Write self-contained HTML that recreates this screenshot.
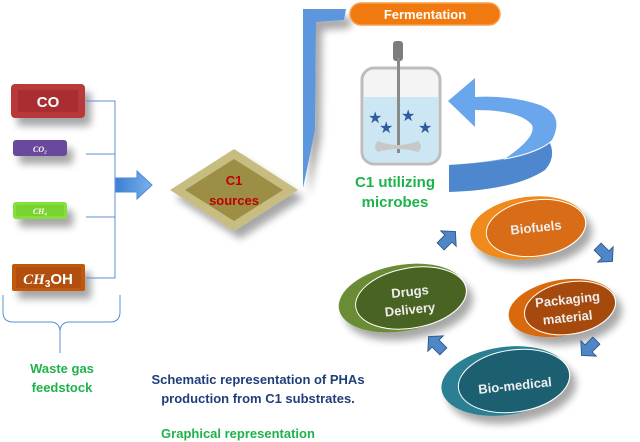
<!DOCTYPE html>
<html><head><meta charset="utf-8"><style>
html,body{margin:0;padding:0;background:#fff;}
svg{display:block;font-family:"Liberation Sans",sans-serif;font-weight:bold;}
</style></head><body>
<svg width="640" height="442" viewBox="0 0 640 442" xmlns="http://www.w3.org/2000/svg">
<defs>
<filter id="sh" x="-30%" y="-30%" width="180%" height="200%"><feGaussianBlur in="SourceAlpha" stdDeviation="4"/><feOffset dx="6" dy="8"/><feComponentTransfer><feFuncA type="linear" slope="0.35"/></feComponentTransfer><feMerge><feMergeNode/><feMergeNode in="SourceGraphic"/></feMerge></filter>
<linearGradient id="blu" x1="0" y1="0" x2="1" y2="0"><stop offset="0" stop-color="#3d7fd0"/><stop offset="1" stop-color="#7ab2ee"/></linearGradient>
</defs>
<g filter="url(#sh)">
<rect x="11" y="84" width="74" height="34" rx="4" fill="#b8383a"/>
<rect x="18" y="90" width="60" height="22" fill="#a82f31"/>
<rect x="13" y="140" width="54" height="16" rx="3" fill="#6a4a9c"/>
<rect x="13" y="202" width="54" height="17" rx="3" fill="#86e03a"/>
<rect x="16" y="205" width="48" height="11" fill="#7ad22e"/>
<rect x="12" y="264" width="73" height="27" rx="2" fill="#c0580f"/>
<rect x="16" y="267" width="65" height="21" fill="#b24f0c"/>
</g>
<text x="48" y="107" fill="#fff" font-size="15" text-anchor="middle">CO</text>
<text x="40" y="152" fill="#fff" font-size="8" font-style="italic" font-family="Liberation Serif,serif" text-anchor="middle">CO₂</text>
<text x="40" y="214" fill="#fff" font-size="8" font-style="italic" font-family="Liberation Serif,serif" text-anchor="middle">CH₄</text>
<text x="48" y="284" fill="#fff" font-size="15" text-anchor="middle"><tspan font-style="italic" font-family="Liberation Serif,serif">CH</tspan><tspan font-size="10" dy="3">3</tspan><tspan dy="-3">OH</tspan></text>
<g stroke="#5b8fd6" stroke-width="1" fill="none">
<path d="M86 101H115V278H86M86 154H115M86 217H115"/>
<path d="M3 295V312Q3 322 13 322H50Q60 322 60 332V353M60 332Q60 322 70 322H110Q120 322 120 312V295"/>
</g>
<path d="M116 178H137V171L152 185L137 199V192H116Z" fill="url(#blu)" stroke="#4a8ad8"/>
<g filter="url(#sh)">
<polygon points="170,190 234,149 298,190 234,231" fill="#c8bd80"/>
<polygon points="185,190 234,159 283,190 234,221" fill="#9c8f45"/>
</g>
<text x="234" y="185" fill="#c00000" font-size="13" text-anchor="middle">C1</text>
<text x="234" y="205" fill="#c00000" font-size="13" text-anchor="middle">sources</text>
<path d="M303 9H346L344 20L316 22L315 130L303 188Z" fill="#5b96dc" filter="url(#sh)"/>
<rect x="350" y="3" width="150" height="22" rx="11" fill="#f07a10" stroke="#f7a04a" stroke-width="1.5"/>
<text x="425" y="19" fill="#fff" font-size="13" text-anchor="middle">Fermentation</text>
<rect x="362" y="68" width="78" height="96" rx="12" fill="#f4f4f4" stroke="#bdbdbd" stroke-width="3"/>
<path d="M364 97H438V152Q438 162 428 162H374Q364 162 364 152Z" fill="#cce6f3"/>
<rect x="393" y="41" width="10" height="20" rx="3" fill="#7d7d7d"/>
<rect x="397" y="58" width="3" height="95" fill="#8a8a8a"/>
<path d="M378 141Q372 147 378 152Q388 149 398 149Q408 149 418 152Q424 147 418 141Q408 145 398 145Q388 145 378 141Z" fill="#c8c8c8"/>
<g fill="#2e5c9e" font-size="16" font-weight="normal" font-family="DejaVu Sans,sans-serif">
<text x="368" y="123">★</text><text x="379" y="133">★</text><text x="401" y="121">★</text><text x="418" y="133">★</text></g>
<path d="M449 165Q530 160 552 140Q565 115 540 105Q510 95 475 97L475 78L448 101L475 127L475 110Q520 110 532 125Q540 145 449 190Z" fill="#6aa6ec"/>
<path d="M449 165Q525 162 550 143Q556 158 545 170Q515 190 449 192Z" fill="#4f87cf"/>
<text x="395" y="187" fill="#1db34a" font-size="15" text-anchor="middle">C1 utilizing</text>
<text x="395" y="207" fill="#1db34a" font-size="15" text-anchor="middle">microbes</text>
<g filter="url(#sh)">
<ellipse cx="528" cy="228" rx="58" ry="31" transform="rotate(-8 528 228)" fill="#f08a1a"/>
<ellipse cx="536" cy="228" rx="50" ry="28" transform="rotate(-8 536 228)" fill="#d96c12" stroke="#fff" stroke-width="1"/>
<ellipse cx="562" cy="308" rx="54" ry="28" transform="rotate(-10 562 308)" fill="#d8690c"/>
<ellipse cx="570" cy="308" rx="46" ry="26" transform="rotate(-10 570 308)" fill="#a64a0c" stroke="#fff" stroke-width="1"/>
<ellipse cx="505" cy="381" rx="64" ry="34" transform="rotate(-8 505 381)" fill="#2a7f93"/>
<ellipse cx="514" cy="381" rx="56" ry="31" transform="rotate(-8 514 381)" fill="#1d5f70" stroke="#fff" stroke-width="1"/>
<ellipse cx="402" cy="298" rx="64" ry="33" transform="rotate(-10 402 298)" fill="#6b8c34"/>
<ellipse cx="411" cy="298" rx="56" ry="30" transform="rotate(-10 411 298)" fill="#4a6320" stroke="#fff" stroke-width="1"/>
</g>
<g fill="#eee" font-size="13" text-anchor="middle">
<text x="536" y="232" transform="rotate(-6 536 228)">Biofuels</text>
<text x="568" y="304" transform="rotate(-6 568 304)">Packaging</text>
<text x="568" y="322" transform="rotate(-6 568 322)">material</text>
<text x="515" y="390" transform="rotate(-6 515 386)">Bio-medical</text>
<text x="410" y="296" transform="rotate(-6 410 292)">Drugs</text>
<text x="410" y="314" transform="rotate(-6 410 310)">Delivery</text>
</g>
<g fill="#4f86c8" stroke="#2a4f80" stroke-width="0.8">
<path d="M-9 -5H2V-11L12 0L2 11V5H-9Z" transform="translate(447 240) rotate(-45)"/>
<path d="M-9 -5H2V-11L12 0L2 11V5H-9Z" transform="translate(604 253) rotate(45)"/>
<path d="M-9 -5H2V-11L12 0L2 11V5H-9Z" transform="translate(590 347) rotate(135)"/>
<path d="M-9 -5H2V-11L12 0L2 11V5H-9Z" transform="translate(437 345) rotate(-135)"/>
</g>
<text x="62" y="373" fill="#1db34a" font-size="13" text-anchor="middle">Waste gas</text>
<text x="62" y="392" fill="#1db34a" font-size="13" text-anchor="middle">feedstock</text>
<text x="258" y="384" fill="#1f3f7a" font-size="13" text-anchor="middle">Schematic representation of PHAs</text>
<text x="258" y="403" fill="#1f3f7a" font-size="13" text-anchor="middle">production from C1 substrates.</text>
<text x="238" y="438" fill="#1db34a" font-size="13" text-anchor="middle">Graphical representation</text>
</svg>
</body></html>
